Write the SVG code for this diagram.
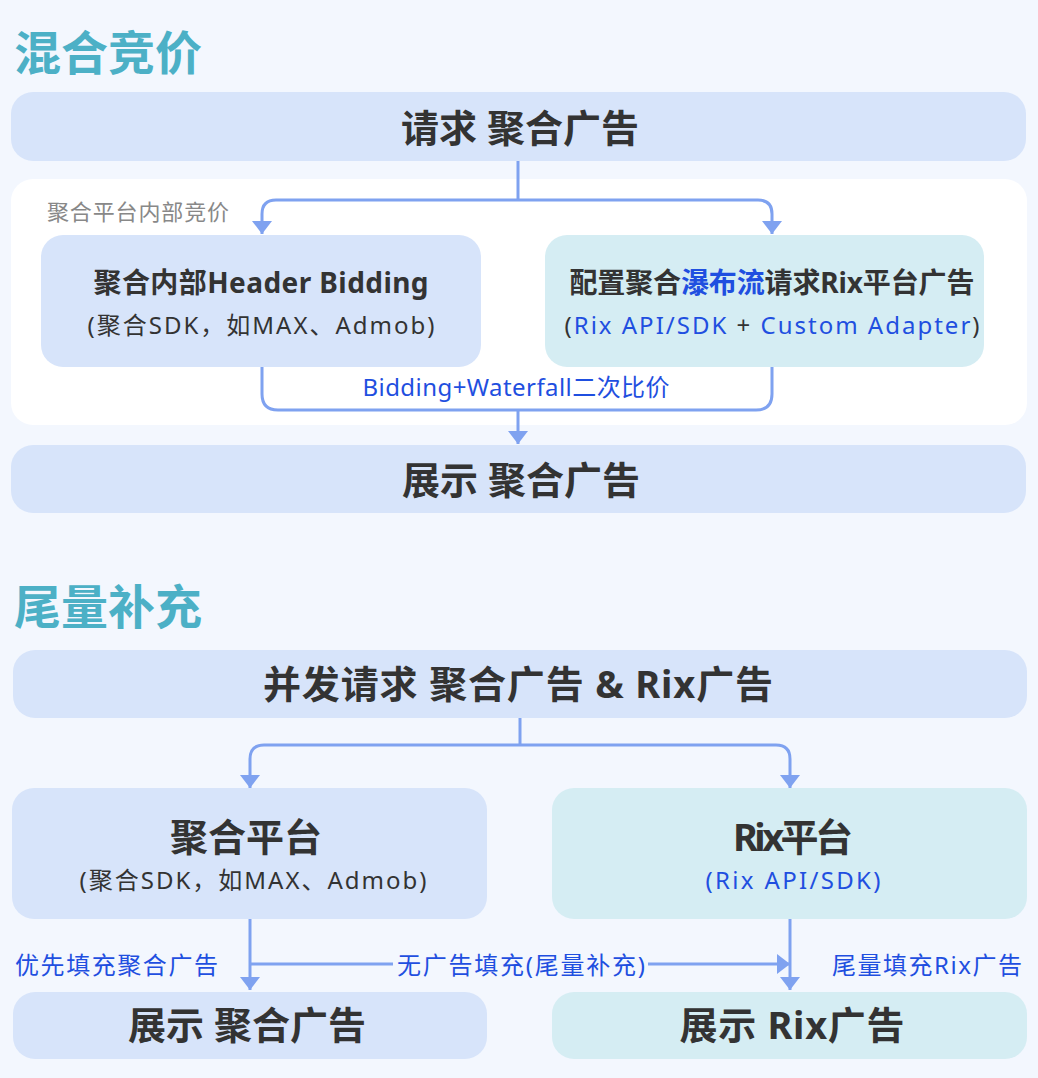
<svg xmlns="http://www.w3.org/2000/svg" width="1038" height="1078" viewBox="0 0 1038 1078">
<style>
.bg{fill:#F3F7FE}
.blue{fill:#D7E4FA}
.teal{fill:#D5EDF3}
.panel{fill:#FFFFFF}
.title{font-family:"Noto Sans CJK SC",sans-serif;font-weight:700;font-size:47px;fill:#4CB0C6}
.big{font-family:"Noto Sans","Noto Sans CJK SC",sans-serif;font-weight:700;font-size:38px;fill:#333333;text-anchor:middle}
.mid{font-family:"Noto Sans","Noto Sans CJK SC",sans-serif;font-weight:700;font-size:28px;fill:#333333;text-anchor:middle}
.sub{font-family:"Noto Sans","Noto Sans CJK SC",sans-serif;font-weight:400;font-size:24px;fill:#333333;text-anchor:middle}
.lbl{font-family:"Noto Sans","Noto Sans CJK SC",sans-serif;font-weight:400;font-size:24px;fill:#1F4FE0}
.gray{font-family:"Noto Sans CJK SC",sans-serif;font-weight:400;font-size:22px;fill:#888888}
.hl{fill:#1F4FE0}
.ln{fill:none;stroke:#7FA2F0;stroke-width:3}
</style>
<defs>
<marker id="ah" markerUnits="userSpaceOnUse" markerWidth="14" markerHeight="22" viewBox="0 0 14 22" refX="13" refY="11" orient="auto">
<path d="M0,1 L13,11 L0,21 Z" fill="#7FA2F0"/>
</marker>
</defs>
<rect class="bg" x="0" y="0" width="1038" height="1078"/>

<text class="title" x="14" y="70">混合竞价</text>

<g id="req1">
<rect class="blue" x="11" y="92" width="1015" height="69" rx="22"/>
<text class="big" x="520" y="142">请求 聚合广告</text>
</g>

<g id="panel">
<rect class="panel" x="11" y="179" width="1016" height="246" rx="22"/>
<text class="gray" x="47" y="220" textLength="182" lengthAdjust="spacing">聚合平台内部竞价</text>
</g>

<g id="hb">
<rect class="blue" x="41" y="235" width="440" height="132" rx="22"/>
<text class="mid" x="261" y="293" textLength="335" lengthAdjust="spacing">聚合内部Header Bidding</text>
<text class="sub" x="261" y="334" textLength="347" lengthAdjust="spacing">(聚合SDK，如MAX、Admob)</text>
</g>

<g id="wf">
<rect class="teal" x="545" y="235" width="439" height="132" rx="22"/>
<text class="mid" x="772" y="293" textLength="405" lengthAdjust="spacing">配置聚合<tspan class="hl">瀑布流</tspan>请求Rix平台广告</text>
<text class="sub" x="772" y="334" textLength="415" lengthAdjust="spacing">(<tspan class="hl">Rix API/SDK</tspan> + <tspan class="hl">Custom Adapter</tspan>)</text>
</g>

<g id="show1">
<rect class="blue" x="11" y="445" width="1015" height="68" rx="22"/>
<text class="big" x="521" y="494">展示 聚合广告</text>
</g>

<text class="title" x="14" y="624">尾量补充</text>

<g id="req2">
<rect class="blue" x="13" y="650" width="1014" height="68" rx="22"/>
<text class="big" x="518" y="698" textLength="510" lengthAdjust="spacing">并发请求 聚合广告 &amp; Rix广告</text>
</g>

<g id="agg">
<rect class="blue" x="12" y="788" width="475" height="131" rx="22"/>
<text class="big" x="246" y="851" font-size="37">聚合平台</text>
<text class="sub" x="253" y="889" textLength="347" lengthAdjust="spacing">(聚合SDK，如MAX、Admob)</text>
</g>

<g id="rix">
<rect class="teal" x="552" y="788" width="475" height="131" rx="22"/>
<text class="big" x="793" y="851" font-size="37" textLength="120" lengthAdjust="spacing">Rix平台</text>
<text class="sub hl" x="793" y="889" textLength="175" lengthAdjust="spacing">(Rix API/SDK)</text>
</g>

<g id="show2">
<rect class="blue" x="13" y="992" width="474" height="67" rx="22"/>
<text class="big" x="247" y="1039">展示 聚合广告</text>
</g>

<g id="show3">
<rect class="teal" x="552" y="992" width="475" height="67" rx="22"/>
<text class="big" x="792" y="1039" textLength="225" lengthAdjust="spacing">展示 Rix广告</text>
</g>

<g id="connectors">
<path class="ln" d="M518,161 V200"/>
<path class="ln" d="M518,200 H276 Q262,200 262,214 V234" marker-end="url(#ah)"/>
<path class="ln" d="M518,200 H758 Q772,200 772,214 V234" marker-end="url(#ah)"/>
<path class="ln" d="M262,367 V394 Q262,410 278,410 H756 Q772,410 772,394 V367"/>
<path class="ln" d="M518,410 V444" marker-end="url(#ah)"/>
<text class="lbl" x="516" y="396" text-anchor="middle" font-size="22" textLength="307" lengthAdjust="spacing">Bidding+Waterfall二次比价</text>

<path class="ln" d="M520,718 V745"/>
<path class="ln" d="M520,745 H264 Q250,745 250,759 V788" marker-end="url(#ah)"/>
<path class="ln" d="M520,745 H776 Q790,745 790,759 V788" marker-end="url(#ah)"/>
<path class="ln" d="M250,919 V990" marker-end="url(#ah)"/>
<path class="ln" d="M790,919 V990" marker-end="url(#ah)"/>
<path class="ln" d="M250,964 H393"/>
<path class="ln" d="M648,964 H790" marker-end="url(#ah)"/>
<text class="lbl" x="521" y="974" text-anchor="middle" textLength="248" lengthAdjust="spacing">无广告填充(尾量补充)</text>
<text class="lbl" x="15" y="974" textLength="203" lengthAdjust="spacing">优先填充聚合广告</text>
<text class="lbl" x="1022" y="974" text-anchor="end" textLength="190" lengthAdjust="spacing">尾量填充Rix广告</text>
</g>
</svg>
